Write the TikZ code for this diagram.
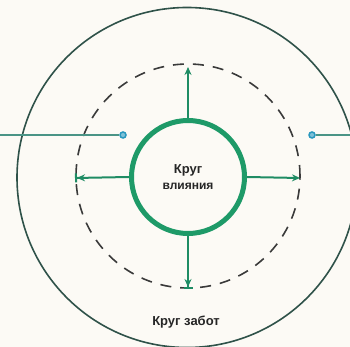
\documentclass[tikz,border=0pt]{standalone}
\usepackage{fontspec}
\setmainfont{Liberation Sans}
\usetikzlibrary{arrows.meta}
\definecolor{bg}{HTML}{FCFAF5}
\definecolor{ringgreen}{HTML}{1E9A68}
\definecolor{arrowgreen}{HTML}{1F8C64}
\definecolor{outerc}{HTML}{2F5249}
\definecolor{dashc}{HTML}{3A3A3A}
\definecolor{tealline}{HTML}{4A9486}
\definecolor{dotblue}{HTML}{2A98BE}
\definecolor{txt}{HTML}{262626}
\tikzset{
  ring/.style={circle, draw=ringgreen, line width=5pt, minimum size=113pt, inner sep=0pt, align=center},
  zone/.style={circle, draw=dashc, line width=1.6pt, dash pattern=on 11pt off 9pt, minimum size=224pt, inner sep=0pt},
  outerring/.style={circle, draw=outerc, line width=1.6pt, minimum size=340pt, inner sep=0pt},
  push/.style={draw=arrowgreen, line width=2pt, -{Stealth[length=8pt,width=7pt]}},
  pushbar/.style={draw=arrowgreen, line width=2pt, -{Stealth[length=8pt,width=7pt]Bar[width=9pt,sep=0pt]}},
  pointer/.style={draw=tealline, line width=2pt},
  pin/.style={circle, draw=dotblue, fill=dotblue!60, line width=1.5pt, minimum size=6pt, inner sep=0pt},
  lbl/.style={text=txt, font=\bfseries\fontsize{13}{15}\selectfont, align=center}
}
\begin{document}
\begin{tikzpicture}[x=1pt,y=-1pt]
\useasboundingbox[fill=bg] (0,0) rectangle (350,347);
\node[outerring] (outer) at (187,177.5) {};
\node[zone] (zone) at (188,176) {};
\node[ring, lbl] (inner) at (188,177) {Круг\\[1pt]{\fontsize{12}{14}\selectfont влияния}};
\coordinate (upend) at (188,67);
\coordinate (downend) at (188,289);
\coordinate (leftend) at (75,178);
\coordinate (rightend) at (300,178);
\draw[push] (inner.north) -- (upend);
\draw[pushbar] (inner.south) -- (downend);
\draw[pushbar] (inner.west) -- (leftend);
\draw[push] (inner.east) -- (rightend);
\node[pin] (pinl) at (123,135) {};
\node[pin] (pinr) at (312,135) {};
\coordinate (lstart) at (0,135);
\coordinate (rstart) at (350,135);
\draw[pointer] (lstart) -- (pinl);
\draw[pointer] (pinr) -- (rstart);
\node[lbl] (care) at (186,322) {Круг забот};
\end{tikzpicture}
\end{document}
